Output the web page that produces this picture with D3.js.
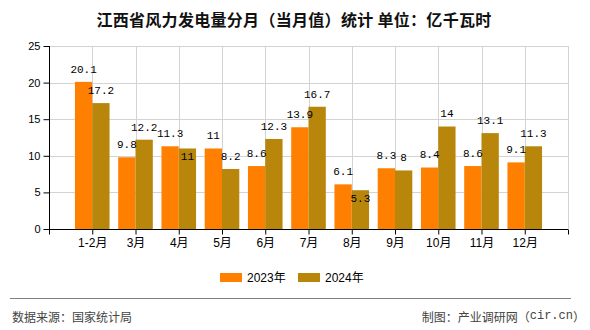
<!DOCTYPE html>
<html>
<head>
<meta charset="utf-8">
<script src="https://cdn.jsdelivr.net/npm/d3@7/dist/d3.min.js"></script>
<style>
  html, body { margin: 0; padding: 0; background: #fff; }
  svg { display: block; }
</style>
</head>
<body>
<svg id="chart" width="590" height="330"></svg>
<script>
// Monthly wind power generation in Jiangxi (100 million kWh)
const categories = ["1-2月", "3月", "4月", "5月", "6月", "7月", "8月", "9月", "10月", "11月", "12月"];
const seriesNames = ["2023年", "2024年"];
const values2023 = [20.1, 9.8, 11.3, 11, 8.6, 13.9, 6.1, 8.3, 8.4, 8.6, 9.1];
const values2024 = [17.2, 12.2, 11, 8.2, 12.3, 16.7, 5.3, 8, 14, 13.1, 11.3];
const yTicks = [0, 5, 10, 15, 20, 25];

const colors = ["#ff8000", "#b8860b"];
const series = [values2023, values2024];

const svg = d3.select("#chart");
const plotL = 49, plotR = 568, plotT = 46, plotB = 229;

// categories sit on positions 1..n of a slot scale that has one spare slot
const x = d3.scaleLinear().domain([0, categories.length + 1]).range([plotL, plotR]);
const y = d3.scaleLinear().domain([0, 25]).range([plotB, plotT]);
const slot = x(1) - x(0);
const barW = slot * 0.4;

// title
svg.append("text")
  .attr("x", 294).attr("y", 19)
  .attr("text-anchor", "middle").attr("dominant-baseline", "central")
  .attr("font-family", "'Noto Sans CJK SC', sans-serif")
  .attr("font-size", 16).attr("font-weight", "bold").attr("fill", "#111")
  .attr("letter-spacing", 0.3)
  .text("江西省风力发电量分月（当月值）统计 单位：亿千瓦时");

// grid
const grid = svg.append("g").attr("stroke", "#d3d3d3").attr("stroke-width", 1);
yTicks.filter(t => t > 0).forEach(t => {
  grid.append("line").attr("x1", plotL).attr("x2", plotR)
    .attr("y1", Math.round(y(t)) + 0.5).attr("y2", Math.round(y(t)) + 0.5);
});
d3.range(1, categories.length + 2).forEach(i => {
  grid.append("line").attr("y1", plotT).attr("y2", plotB)
    .attr("x1", Math.round(x(i)) + 0.5).attr("x2", Math.round(x(i)) + 0.5);
});

// bars
series.forEach((vals, s) => {
  svg.append("g").selectAll("rect").data(vals).join("rect")
    .attr("x", (d, i) => x(i + 1) - barW + s * barW)
    .attr("width", barW)
    .attr("y", d => y(d))
    .attr("height", d => y(0) - y(d))
    .attr("fill", colors[s]);
});

// axes
const yAxis = svg.append("g")
  .attr("transform", `translate(${plotL + 0.5},0)`)
  .call(d3.axisLeft(y).tickValues(yTicks).tickSize(6).tickPadding(3).tickFormat(d3.format("d")));
const xAxis = svg.append("g")
  .attr("transform", `translate(0,${plotB + 0.5})`)
  .call(d3.axisBottom(x).tickValues(d3.range(0, categories.length + 2)).tickSize(5).tickPadding(4)
    .tickFormat(i => (i >= 1 && i <= categories.length) ? categories[i - 1] : ""));
[yAxis, xAxis].forEach(a => {
  a.select(".domain").attr("stroke", "#000");
  a.selectAll(".tick line").attr("stroke", "#000");
  a.selectAll("text").attr("fill", "#000")
    .attr("font-family", "'Liberation Sans', 'Noto Sans CJK SC', sans-serif");
});
yAxis.selectAll("text").attr("font-size", 11);
xAxis.selectAll("text").attr("font-size", 12);
yAxis.select(".domain").attr("d", `M0,${plotT}V${plotB}`);
xAxis.select(".domain").attr("d", `M${plotL},0H${plotR}`);

// value labels: above each bar, pushed inside the bar top when crowding its neighbour
const labelFont = "'Liberation Mono', 'DejaVu Sans Mono', monospace";
const labels = svg.append("g").attr("font-family", labelFont).attr("font-size", 11)
  .attr("text-anchor", "middle").attr("fill", "#000");
categories.forEach((c, i) => {
  const cx0 = x(i + 1) - barW / 2, cx1 = x(i + 1) + barW / 2;
  const t0 = labels.append("text").attr("x", cx0).attr("y", y(values2023[i]) - 13)
    .attr("dy", "0.35em").text(values2023[i]);
  const t1 = labels.append("text").attr("x", cx1).attr("y", y(values2024[i]) - 13)
    .attr("dy", "0.35em").text(values2024[i]);
  const w0 = t0.node().getComputedTextLength(), w1 = t1.node().getComputedTextLength();
  const gap = (cx1 - w1 / 2) - (cx0 + w0 / 2);
  const dy = Math.abs(y(values2023[i]) - y(values2024[i]));
  if (gap < 2 && dy < 12) {
    t1.attr("y", y(values2024[i]) + 8);
  }
});

// legend
const legend = svg.append("g").attr("font-family", "'Liberation Sans', 'Noto Sans CJK SC', sans-serif")
  .attr("font-size", 12);
seriesNames.forEach((n, s) => {
  const lx = 220 + s * 78;
  legend.append("rect").attr("x", lx).attr("y", 273).attr("width", 22).attr("height", 9).attr("fill", colors[s]);
  legend.append("text").attr("x", lx + 27).attr("y", 278).attr("dominant-baseline", "central")
    .attr("fill", "#000").text(n);
});

// footer
svg.append("line").attr("x1", 10).attr("x2", 571).attr("y1", 298.5).attr("y2", 298.5)
  .attr("stroke", "#808080").attr("stroke-width", 1);
svg.append("text").attr("x", 12).attr("y", 316).attr("dominant-baseline", "central")
  .attr("font-family", "'Noto Sans CJK SC', sans-serif").attr("font-size", 12).attr("fill", "#444")
  .text("数据来源：国家统计局");
const credit = svg.append("text").attr("x", 585).attr("y", 316).attr("dominant-baseline", "central")
  .attr("text-anchor", "end")
  .attr("font-family", "'Noto Sans CJK SC', sans-serif").attr("font-size", 12).attr("fill", "#444");
credit.append("tspan").text("制图：产业调研网（");
credit.append("tspan").attr("font-family", "'Liberation Mono', monospace").text("cir.cn");
credit.append("tspan").text("）");
</script>
</body>
</html>
